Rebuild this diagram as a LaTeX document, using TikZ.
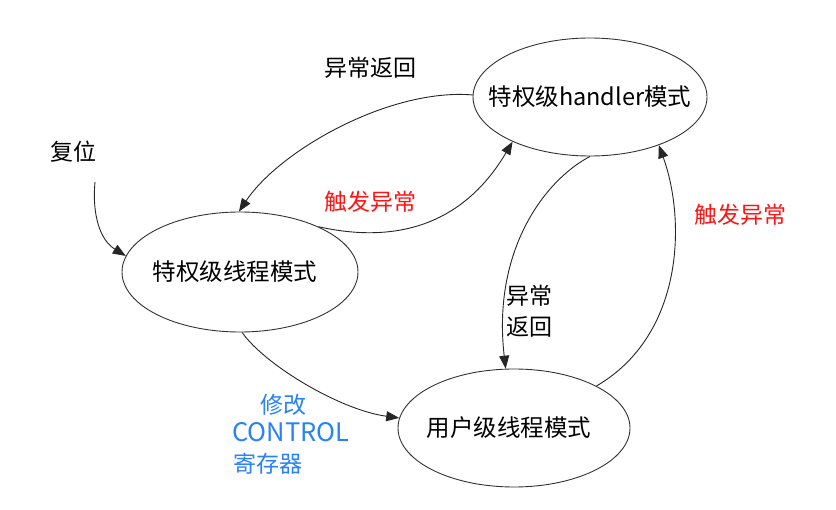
\documentclass[tikz,border=0pt]{standalone}
\usepackage{fontspec}
\setmainfont{Noto Sans CJK SC}
\usetikzlibrary{shapes.geometric,arrows.meta}
\definecolor{lblred}{RGB}{255,20,20}
\definecolor{lblblue}{RGB}{40,130,250}
\tikzset{
  state/.style={draw=black!80, line width=0.9pt, ellipse, inner sep=0pt,
    minimum width=234pt, minimum height=118pt},
  lbl/.style={inner sep=0pt, font=\fontsize{23}{28}\selectfont},
  arr/.style={draw=black!85, line width=0.9pt, -{Triangle[length=13pt,width=10pt]}},
}
\begin{document}
\begin{tikzpicture}[x=1pt,y=-1pt]
\path[use as bounding box, fill=white] (0,0) rectangle (836,510);

\node[state] (hd) at (590,97) {\makebox[0pt]{\fontsize{23.5}{28}\selectfont 特权级handler模式}};
\node[state, minimum width=236pt, minimum height=120pt] (pt) at (240,272) {\makebox[0pt]{\fontsize{23.5}{28}\selectfont\kern-10pt 特权级线程模式}};
\node[state, minimum width=232pt] (ut) at (514,428) {\makebox[0pt]{\fontsize{23.5}{28}\selectfont\kern-10pt 用户级线程模式}};

\node[lbl] (rst) at (73,152) {复位};
\node[lbl] (ret1) at (370,68) {异常返回};
\node[lbl, text=lblred] (trg1) at (370,202) {触发异常};
\node[lbl, text=lblred] (trg2) at (740,215) {触发异常};
\node[lbl, align=left, font=\fontsize{23}{31}\selectfont] (ret2) at (529,311) {异常\\返回};
\node[lbl, text=lblblue] (c1) at (283,405) {修改};
\node[lbl, text=lblblue, anchor=west, font=\fontsize{25.5}{28}\selectfont] (c2) at (232,432) {CONTROL};
\node[lbl, text=lblblue, anchor=west] (c3) at (233,464) {寄存器};

% reset -> privileged thread
\draw[arr] ([xshift=22pt,yshift=-30pt]rst.center) .. controls (92,215) and (100,240) .. (pt.172);
% handler -> privileged thread (exception return)
\draw[arr] (hd.179) .. controls (390,88) and (280,150) .. (pt.91);
% privileged thread -> handler (trigger exception)
\draw[arr] (pt.30) .. controls (400,245) and (465,222) .. (hd.210);
% handler -> user thread (exception return)
\draw[arr] (hd.270) .. controls (545,180) and (492,250) .. (ut.98);
% user thread -> handler (trigger exception)
\draw[arr] (ut.27) .. controls (684,335) and (686,220) .. (hd.325);
% privileged thread -> user thread (modify CONTROL)
\draw[arr] (pt.272) .. controls (265,365) and (340,410) .. (ut.175);
\end{tikzpicture}
\end{document}
